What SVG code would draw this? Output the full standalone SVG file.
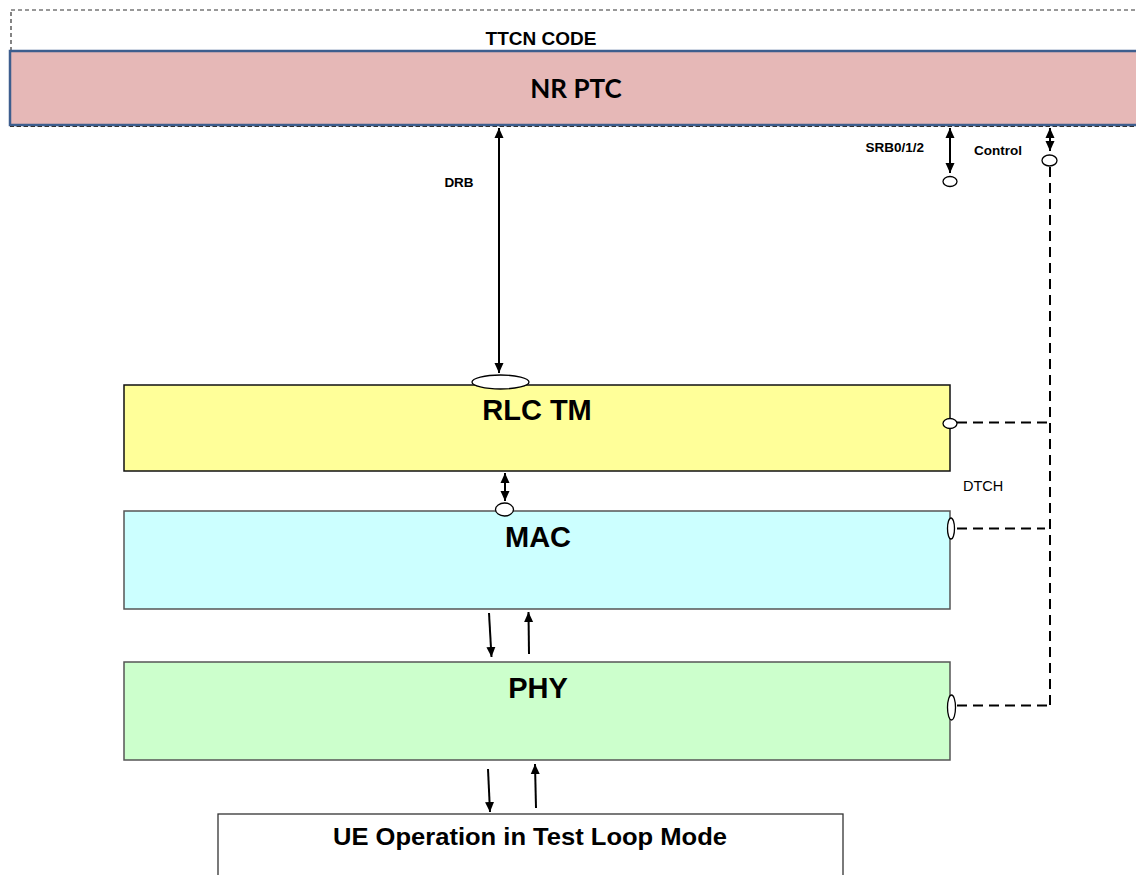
<svg xmlns="http://www.w3.org/2000/svg" width="1136" height="875" viewBox="0 0 1136 875">
<defs>
<marker id="ah" viewBox="0 0 10 10" refX="10" refY="5" markerWidth="5" markerHeight="5" orient="auto-start-reverse" markerUnits="strokeWidth">
<path d="M0,0.5 L10,5 L0,9.5 z" fill="#000"/>
</marker>
<style>
.lbl{font-family:"Liberation Sans",Arial,sans-serif;font-weight:bold;fill:#000}
.big{font-family:"Liberation Sans",Arial,sans-serif;font-weight:bold;font-size:29px;fill:#000;text-anchor:middle}
.arr{stroke:#000;stroke-width:2;fill:none}
.dash{stroke:#000;stroke-width:2;fill:none;stroke-dasharray:10 6}
.port{fill:#fff;stroke:#000;stroke-width:1.3}
.tdash{fill:none;stroke:#333;stroke-width:1.2;stroke-dasharray:4 3}
</style>
</defs>
<rect width="1136" height="875" fill="#fff"/>

<g id="ttcn">
<rect class="tdash" x="11" y="10" width="1140" height="116"/>
<text class="lbl" x="541" y="45" font-size="19" text-anchor="middle">TTCN CODE</text>
</g>

<g id="nrptc">
<rect x="10" y="51" width="1140" height="74" fill="#E6B8B7" stroke="#3D5E8E" stroke-width="2.5"/>
<line class="tdash" x1="10" y1="126.5" x2="1136" y2="126.5"/>
<text x="576" y="98" font-family="Lato,'Open Sans',sans-serif" font-weight="bold" font-size="26" text-anchor="middle" fill="#000">NR PTC</text>
</g>

<g id="rlc">
<rect x="124" y="385" width="826" height="86" fill="#FFFF99" stroke="#111" stroke-width="1.5"/>
<text class="big" x="537" y="420">RLC TM</text>
</g>

<g id="mac">
<rect x="124" y="511" width="826" height="98" fill="#CCFFFF" stroke="#555" stroke-width="1.5"/>
<text class="big" x="538" y="547">MAC</text>
</g>

<g id="phy">
<rect x="124" y="662" width="826" height="98" fill="#CCFFCC" stroke="#555" stroke-width="1.5"/>
<text class="big" x="538" y="698">PHY</text>
</g>

<g id="ue">
<rect x="218" y="814" width="625" height="80" fill="#fff" stroke="#333" stroke-width="1.3"/>
<text class="lbl" x="530" y="845" font-size="24" text-anchor="middle" textLength="394" lengthAdjust="spacingAndGlyphs">UE Operation in Test Loop Mode</text>
</g>

<g id="connectors">
<line class="arr" x1="499" y1="128" x2="499" y2="373" marker-start="url(#ah)" marker-end="url(#ah)"/>
<text class="lbl" x="459" y="187" font-size="13.5" text-anchor="middle">DRB</text>

<line class="arr" x1="950" y1="128" x2="950" y2="173" marker-start="url(#ah)" marker-end="url(#ah)"/>
<text class="lbl" x="924" y="152" font-size="13.5" text-anchor="end">SRB0/1/2</text>

<line class="arr" x1="1050" y1="128" x2="1050" y2="151" marker-start="url(#ah)" marker-end="url(#ah)"/>
<text class="lbl" x="974" y="155" font-size="13.5">Control</text>

<line class="dash" x1="1050" y1="167" x2="1050" y2="706"/>
<line class="dash" x1="957" y1="422.5" x2="1049" y2="422.5"/>
<line class="dash" x1="957" y1="528.5" x2="1045" y2="528.5"/>
<line class="dash" x1="957" y1="705.5" x2="1050" y2="705.5"/>
<text x="963" y="491" font-family="'Liberation Sans',Arial,sans-serif" font-size="14.5" fill="#000">DTCH</text>

<line class="arr" x1="505" y1="473" x2="505" y2="501" marker-start="url(#ah)" marker-end="url(#ah)"/>

<line class="arr" x1="489" y1="613" x2="491.5" y2="657" marker-end="url(#ah)"/>
<line class="arr" x1="529" y1="654" x2="528.5" y2="612" marker-end="url(#ah)"/>

<line class="arr" x1="488" y1="769" x2="490" y2="812" marker-end="url(#ah)"/>
<line class="arr" x1="536" y1="808" x2="535" y2="764" marker-end="url(#ah)"/>

<ellipse class="port" cx="500.5" cy="382" rx="28.5" ry="7"/>
<ellipse class="port" cx="504.5" cy="509.5" rx="9" ry="6.5"/>
<ellipse class="port" cx="950" cy="181.5" rx="7" ry="5"/>
<ellipse class="port" cx="1049.5" cy="160.5" rx="7.5" ry="5.5"/>
<ellipse class="port" cx="950" cy="423.5" rx="7" ry="5"/>
<ellipse class="port" cx="951" cy="528.5" rx="3.5" ry="10.5"/>
<ellipse class="port" cx="951.5" cy="707.5" rx="4" ry="12.5"/>
</g>
</svg>
